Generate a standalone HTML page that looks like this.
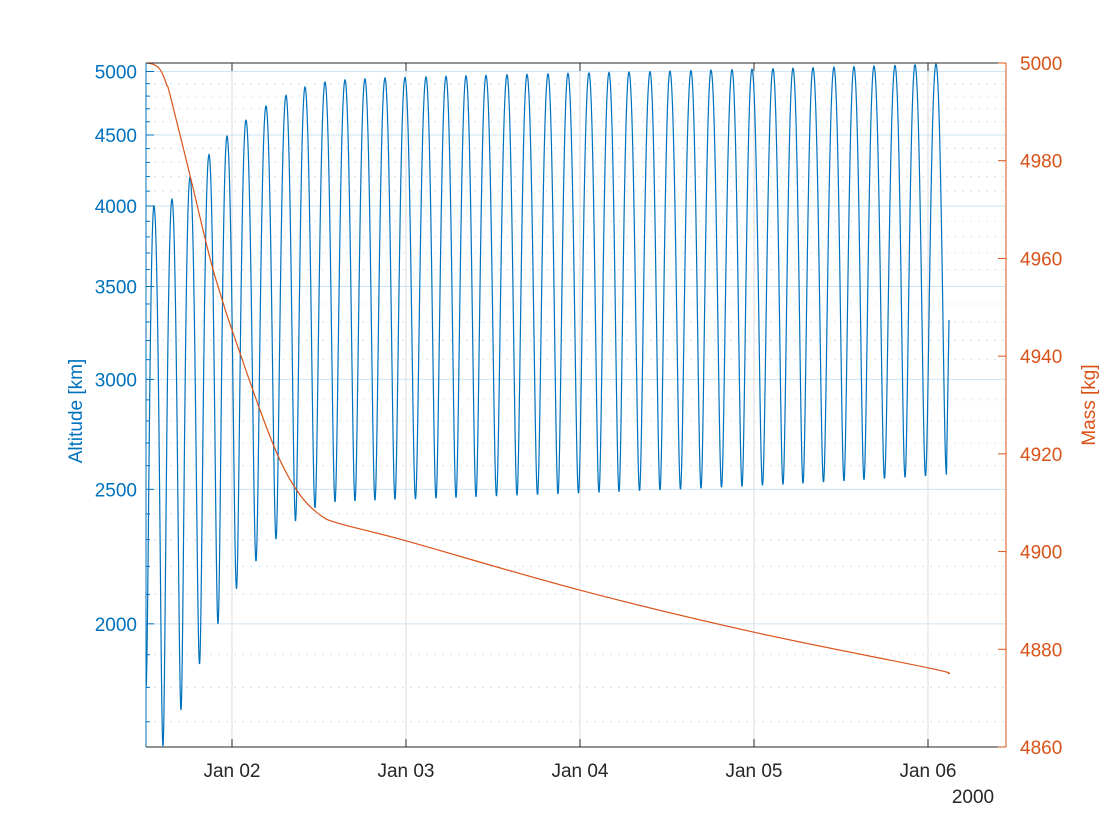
<!DOCTYPE html>
<html><head><meta charset="utf-8"><style>
body{margin:0;background:#fff;}
svg{display:block;font-family:"Liberation Sans",sans-serif;}
</style></head><body>
<svg id="chart" width="1120" height="840" xmlns="http://www.w3.org/2000/svg"></svg>
<script>
// time in hours since Jan 01 2000 00:00
const apoTimes=[37.24,39.72,42.21,44.83,47.31,49.93,52.69,55.45,58.07,60.83,63.59,66.34,69.10,71.86,74.76,77.52,80.28,83.03,85.93,88.69,91.59,94.34,97.24,100.00,102.76,105.66,108.41,111.31,114.07,116.97,119.72,122.62,125.38,128.14,131.03,133.79,136.55,139.45,142.21,145.10];
const apoAlt=[4000,4046,4198,4356,4492,4612,4721,4806,4873,4913,4931,4939,4946,4950,4955,4960,4964,4968,4972,4976,4980,4984,4988,4992,4995,4999,5003,5007,5011,5015,5019,5023,5027,5031,5036,5040,5045,5050,5056,5062];
const periAlt=[1633,1734,1871,2000,2120,2219,2302,2372,2424,2448,2452,2455,2458,2460,2463,2466,2469,2472,2475,2478,2481,2484,2487,2490,2494,2497,2500,2504,2508,2512,2516,2520,2525,2530,2535,2540,2545,2550,2556,2562];
const altStart=[36.14,1800];
const altEnd=[146.9,3311];
const massTimes=[36.14,37.0,37.9,38.5,39.0,39.45,42.21,44.97,46.76,48,51.86,54.62,57.38,60.14,62.9,72,96,120,144,146.9];
const massVals=[5000,4999.8,4999.0,4997.5,4995.5,4993.5,4977,4960,4951,4945.4,4929,4918.7,4911.6,4907.5,4905.7,4902.2,4892.1,4883.5,4876.2,4875];
const xTicks=[48,72,96,120,144];
const xTickLabels=["Jan 02","Jan 03","Jan 04","Jan 05","Jan 06"];
const yLeftTicks=[2000,2500,3000,3500,4000,4500,5000];
const yRightTicks=[4860,4880,4900,4920,4940,4960,4980,5000];

const L=146,R=1006,T=63,B=747;
const tMin=36.14,tMax=36.14+(R-L)*24/174;
const X=t=>L+(t-tMin)/(tMax-tMin)*(R-L);
const PPD=1388;
const YL=v=>71.5-(Math.log10(v)-Math.log10(5000))*PPD;
const YR=v=>T+(5000-v)/(5000-4860)*(B-T);
const svg=document.getElementById('chart');
const NS='http://www.w3.org/2000/svg';
const FS=19;
function mk(tag,attrs,parent){const e=document.createElementNS(NS,tag);for(const k in attrs)e.setAttribute(k,attrs[k]);(parent||svg).appendChild(e);return e;}

// grid
const grid=mk('g',{});


xTicks.forEach(t=>{const l=mk('line',{x1:X(t),x2:X(t),y1:T,y2:B,stroke:'#dcdcdc','stroke-width':1},grid);
});
for(let v=1700;v<=5000;v+=100){
  const major=yLeftTicks.includes(v);
  const y=YL(v);
  const l=mk('line',{x1:L,x2:R,y1:y,y2:y,stroke:'#cfe3f2','stroke-width':1,'stroke-dasharray':major?'none':'2,6'},grid);
  
  
  const tk=mk('line',{x1:L,x2:L+(major?8:4),y1:y,y2:y,stroke:'#0072BD','stroke-width':1});
  
}

// altitude series
function orbitSegment(t0,t1,r0,r1,pts){
  const RE=6378,ra=Math.max(r0,r1)+RE,rp=Math.min(r0,r1)+RE;
  const a=(ra+rp)/2,e=(ra-rp)/(ra+rp);
  const down=r0>r1;
  for(let i=1;i<=40;i++){
    const E=down?Math.PI+Math.PI*i/40:Math.PI*i/40;
    let f;
    if(down) f=(E-e*Math.sin(E)-Math.PI)/Math.PI; else f=(E-e*Math.sin(E))/Math.PI;
    const r=a*(1-e*Math.cos(E))-RE;
    pts.push([t0+(t1-t0)*f,r]);
  }
}
const pts=[[altStart[0],altStart[1]]];
orbitSegment(altStart[0],apoTimes[0],altStart[1],apoAlt[0],pts);
for(let i=0;i<apoTimes.length;i++){
  const tA=apoTimes[i];
  const per=i+1<apoTimes.length?(apoTimes[i+1]-tA):(apoTimes[i]-apoTimes[i-1]);
  const tP=tA+per/2;
  if(i+1<apoTimes.length){
    orbitSegment(tA,tP,apoAlt[i],periAlt[i],pts);
    orbitSegment(tP,apoTimes[i+1],periAlt[i],apoAlt[i+1],pts);
  } else {
    const tP2=altEnd[0]-0.35;
    orbitSegment(tA,tP2,apoAlt[i],periAlt[i],pts);
    pts.push([altEnd[0],altEnd[1]]);
  }
}
const altPath=mk('path',{d:'M'+pts.map(p=>X(p[0]).toFixed(2)+','+YL(p[1]).toFixed(2)).join('L'),fill:'none',stroke:'#0072BD','stroke-width':1.2});



// mass series (smooth Catmull-Rom through data points)
const mp=massTimes.map((t,i)=>[X(t),YR(massVals[i])]);
let md='M'+mp[0][0].toFixed(2)+','+mp[0][1].toFixed(2);
for(let i=0;i<mp.length-1;i++){
  const p0=mp[Math.max(0,i-1)],p1=mp[i],p2=mp[i+1],p3=mp[Math.min(mp.length-1,i+2)];
  const c1=[p1[0]+(p2[0]-p0[0])/6,p1[1]+(p2[1]-p0[1])/6];
  const c2=[p2[0]-(p3[0]-p1[0])/6,p2[1]-(p3[1]-p1[1])/6];
  md+='C'+c1[0].toFixed(2)+','+c1[1].toFixed(2)+' '+c2[0].toFixed(2)+','+c2[1].toFixed(2)+' '+p2[0].toFixed(2)+','+p2[1].toFixed(2);
}
const massPath=mk('path',{d:md,fill:'none',stroke:'#D95319','stroke-width':1.2});



// axes box
const topBorder=mk('line',{x1:L,x2:R,y1:T,y2:T,stroke:'#262626','stroke-width':1});

const botAxis=mk('line',{x1:L,x2:R,y1:B,y2:B,stroke:'#262626','stroke-width':1});

const leftAxis=mk('line',{x1:L,x2:L,y1:T,y2:B,stroke:'#0072BD','stroke-width':1});

const rightAxis=mk('line',{x1:R,x2:R,y1:T,y2:B,stroke:'#D95319','stroke-width':1});


xTicks.forEach((t,i)=>{
  const x=X(t);
  const a=mk('line',{x1:x,x2:x,y1:B,y2:B-8,stroke:'#262626'});
  
  const b=mk('line',{x1:x,x2:x,y1:T,y2:T+8,stroke:'#262626'});
  
  const tx=mk('text',{x:x,y:777,'text-anchor':'middle','font-size':FS,fill:'#262626'});
  tx.textContent=xTickLabels[i];
  
});
yLeftTicks.forEach(v=>{
  const tx=mk('text',{x:137,y:YL(v)+7,'text-anchor':'end','font-size':FS,fill:'#0072BD'});
  tx.textContent=v;
  
});
yRightTicks.forEach(v=>{
  const y=YR(v);
  const tk=mk('line',{x1:R,x2:R-8,y1:y,y2:y,stroke:'#D95319'});
  
  const tx=mk('text',{x:1020,y:y+7,'text-anchor':'start','font-size':FS,fill:'#D95319'});
  tx.textContent=v;
  
});
const yr=mk('text',{x:973,y:803,'text-anchor':'middle','font-size':FS,fill:'#262626'});
yr.textContent='2000';

const lt=mk('text',{x:82,y:411,'text-anchor':'middle','font-size':FS,fill:'#0072BD',transform:'rotate(-90 82 411)'});
lt.textContent='Altitude [km]';

const rt=mk('text',{x:1095,y:405,'text-anchor':'middle','font-size':FS,fill:'#D95319',transform:'rotate(-90 1095 405)'});
rt.textContent='Mass [kg]';

</script>
</body></html>
